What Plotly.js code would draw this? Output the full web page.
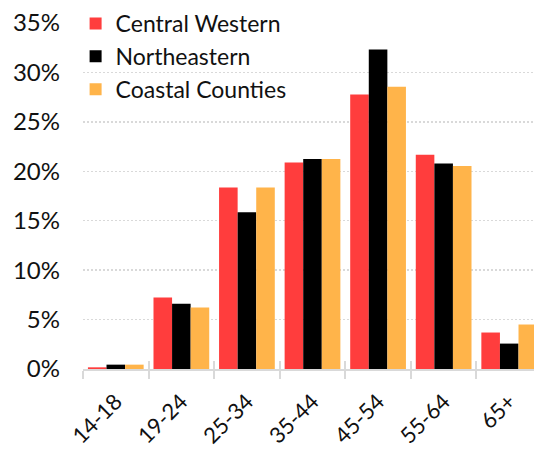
<!DOCTYPE html>
<html>
<head>
<meta charset="utf-8">
<script src="https://cdn.plot.ly/plotly-3.0.1.min.js"></script>
<style>
html, body { margin: 0; padding: 0; overflow: hidden; background: #fff; }
#chart { width: 560px; height: 452px; }
</style>
</head>
<body>
<div id="chart"></div>
<script>
var categories = ["14-18", "19-24", "25-34", "35-44", "45-54", "55-64", "65+"];
var centralWestern = [0.17, 7.24, 18.36, 20.9, 27.76, 21.68, 3.69];
var northeastern = [0.44, 6.6, 15.86, 21.24, 32.33, 20.8, 2.57];
var coastalCounties = [0.44, 6.22, 18.36, 21.24, 28.54, 20.53, 4.5];
var seriesNames = ["Central Western", "Northeastern", "Coastal Counties"];
var yTickVals = [0, 5, 10, 15, 20, 25, 30, 35];
var yTickText = ["0%", "5%", "10%", "15%", "20%", "25%", "30%", "35%"];

var colors = ["#FF3D3D", "#000000", "#FFB44A"];
var FONT = "Lato, 'Open Sans', sans-serif";

var seriesValues = [centralWestern, northeastern, coastalCounties];
var traces = seriesValues.map(function (vals, i) {
  return {
    type: "bar",
    name: seriesNames[i],
    x: categories,
    y: vals,
    marker: { color: colors[i], line: { width: 0 } },
    hoverinfo: "x+y+name"
  };
});
// helper trace on overlay axis (for the upper half of crossing ticks)
traces.push({
  type: "bar",
  x: categories,
  y: categories.map(function () { return 0; }),
  xaxis: "x2",
  yaxis: "y",
  showlegend: false,
  hoverinfo: "skip",
  marker: { color: "rgba(0,0,0,0)" }
});

var layout = {
  width: 560,
  height: 452,
  margin: { l: 83, r: 18, t: 23, b: 83, autoexpand: false },
  paper_bgcolor: "#ffffff",
  plot_bgcolor: "#ffffff",
  font: { family: FONT, color: "#111111" },
  barmode: "group",
  bargap: 0.15,
  bargroupgap: 0,
  showlegend: true,
  legend: {
    xref: "container", yref: "container",
    x: 0.135, y: 0.9956, xanchor: "left", yanchor: "top",
    bgcolor: "rgba(0,0,0,0)",
    font: { family: FONT, size: 23, color: "#111111" },
    tracegroupgap: 0
  },
  xaxis: {
    type: "category",
    categoryorder: "array",
    categoryarray: categories,
    range: [-0.5, 6.5],
    tickangle: -45,
    tickson: "boundaries",
    ticks: "outside",
    ticklen: 8,
    tickwidth: 2,
    tickcolor: "#d9d9d9",
    ticklabelstandoff: 9,
    showline: true,
    linecolor: "#d9d9d9",
    linewidth: 2,
    showgrid: false,
    automargin: false,
    tickfont: { family: FONT, size: 22, color: "#111111" },
    fixedrange: true
  },
  xaxis2: {
    type: "category",
    categoryorder: "array",
    categoryarray: categories,
    overlaying: "x",
    anchor: "y",
    side: "bottom",
    range: [-0.5, 6.5],
    tickson: "boundaries",
    ticks: "inside",
    ticklen: 8,
    tickwidth: 2,
    tickcolor: "#d9d9d9",
    showticklabels: false,
    showline: false,
    showgrid: false,
    fixedrange: true
  },
  yaxis: {
    range: [0, 35],
    tickvals: yTickVals,
    ticktext: yTickText,
    ticks: "",
    ticklabelstandoff: 22,
    showgrid: true,
    gridcolor: "#d9d9d9",
    gridwidth: 1.5,
    griddash: "2px,2px",
    zeroline: false,
    showline: false,
    automargin: false,
    tickfont: { family: FONT, size: 24, color: "#111111" },
    fixedrange: true
  }
};

Plotly.newPlot("chart", traces, layout, { displayModeBar: false, staticPlot: true });
</script>
</body>
</html>
